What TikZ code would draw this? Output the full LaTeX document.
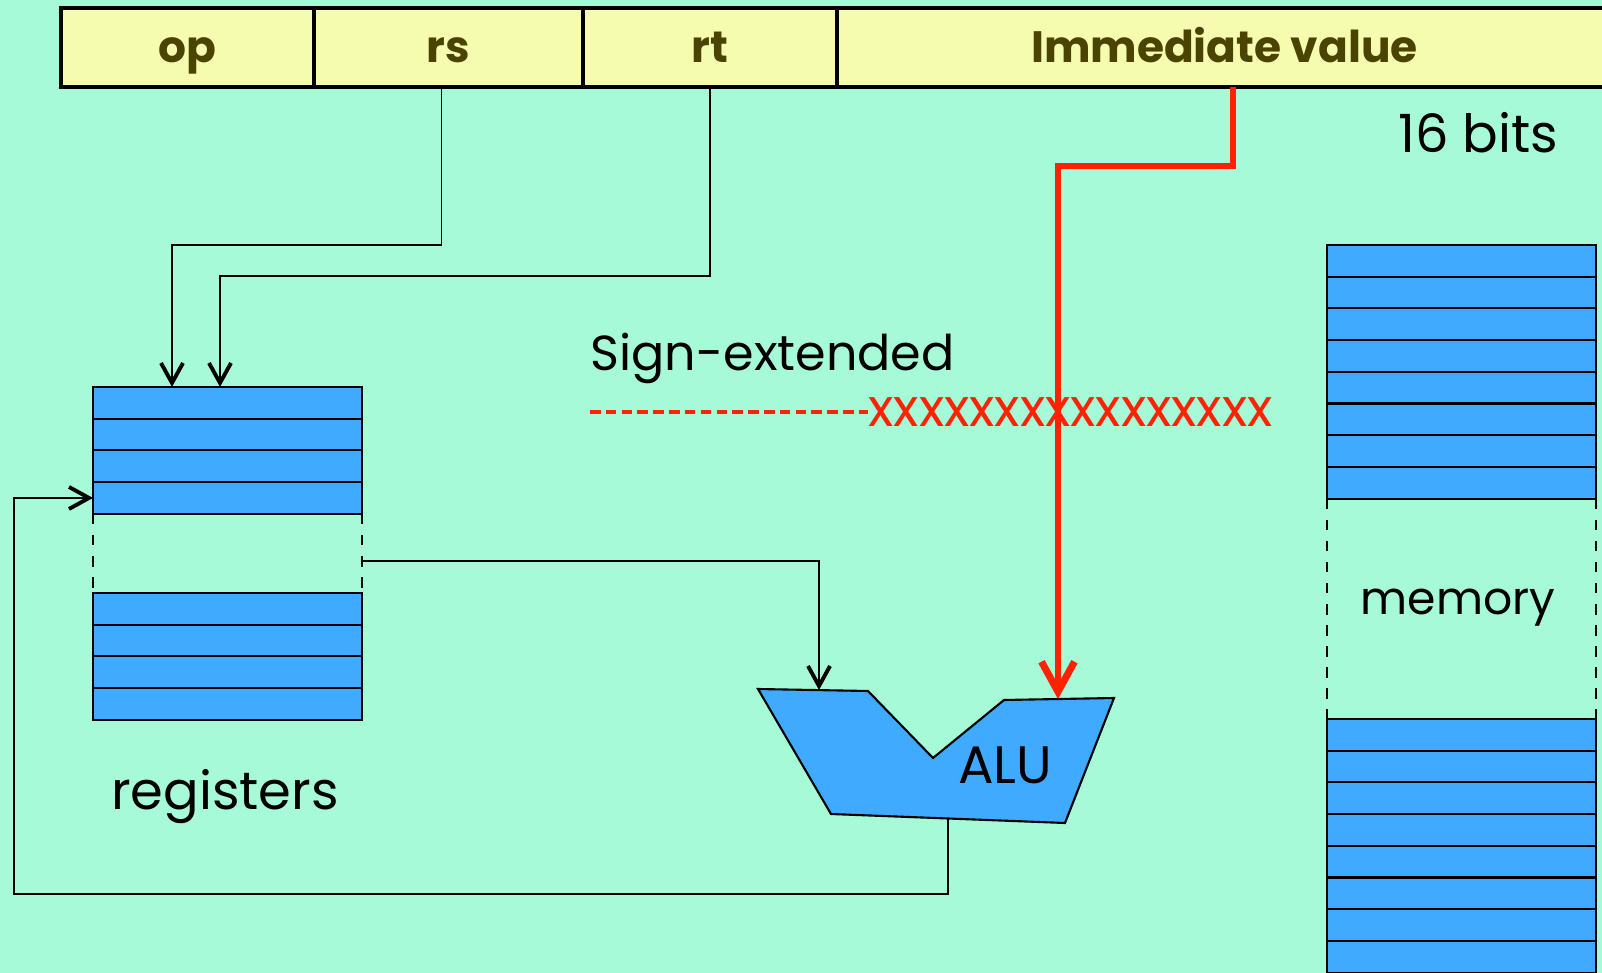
\documentclass[tikz,border=0pt]{standalone}
\usepackage{fontspec}
\setmainfont{Poppins}
\usepackage{xcolor}
\usetikzlibrary{arrows.meta,calc,positioning}
\definecolor{slidebg}{RGB}{166,250,216}
\definecolor{cellblue}{RGB}{63,170,255}
\definecolor{fieldyellow}{RGB}{245,252,176}
\definecolor{fieldtext}{RGB}{74,68,0}
\definecolor{immred}{RGB}{255,34,0}

\begin{document}
\begin{tikzpicture}[
  field/.style={draw,line width=0.9pt,fill=fieldyellow,minimum height=7.9mm,inner sep=0pt,outer sep=0pt,
    text height=3.5mm,text depth=0.4mm,font=\bfseries\fontsize{12.5}{15}\selectfont,text=fieldtext},
  cell/.style={draw,line width=0.6pt,fill=cellblue,minimum width=26.9mm,minimum height=3.17mm,inner sep=0pt,outer sep=0pt},
  gapline/.style={line width=0.6pt,dashed},
  plain/.style={font=\fontsize{15}{18}\selectfont,inner sep=0pt},
  wire/.style={line width=0.5pt,-{Straight Barb[length=2mm,width=2.2mm,line width=1.1pt]}},
  redwire/.style={immred,line width=1.7pt,-{Straight Barb[length=3mm,width=3.3mm,line width=2pt]}}
]
% ---------- background ----------
\fill[slidebg] (0,0) rectangle (16.02,-9.73);
\useasboundingbox (0,0) rectangle (16.02,-9.73);

% ---------- instruction format ----------
\node[field,minimum width=25.3mm,anchor=north west] (op) at (0.61,-0.08) {op};
\node[field,minimum width=26.9mm,right=0pt of op] (rs) {rs};
\node[field,minimum width=25.4mm,right=0pt of rs] (rt) {rt};
\node[field,minimum width=77.5mm,right=0pt of rt] (imm) {Immediate value};
\node[plain] (bits) at (14.78,-1.33) {16 bits};

% ---------- register file ----------
\foreach \k in {1,...,4}
  \node[cell,anchor=north west] (reg\k) at (0.93,{-3.87-0.317*(\k-1)}) {};
\foreach \k in {5,...,8}
  \node[cell,anchor=north west] (reg\k) at (0.93,{-5.93-0.317*(\k-5)}) {};
\draw[gapline] (reg4.south west) -- (reg5.north west);
\draw[gapline] (reg4.south east) -- (reg5.north east);
\node[plain] (regname) at (2.25,-7.97) {registers};

% ---------- memory ----------
\foreach \k in {1,...,8}
  \node[cell,anchor=north west] (mem\k) at (13.27,{-2.45-0.317*(\k-1)}) {};
\foreach \k in {9,...,16}
  \node[cell,anchor=north west] (mem\k) at (13.27,{-7.19-0.317*(\k-9)}) {};
\draw[gapline] (mem8.south west) -- (mem9.north west);
\draw[gapline] (mem8.south east) -- (mem9.north east);
\node[plain,font=\fontsize{13}{16}\selectfont] (memname) at (14.58,-6.08) {memory};

% ---------- ALU ----------
\coordinate (a1) at (7.58,-6.89);
\coordinate (a2) at (8.68,-6.91);
\coordinate (a3) at (9.33,-7.58);
\coordinate (a4) at (10.04,-7.00);
\coordinate (a5) at (11.14,-6.98);
\coordinate (a6) at (10.65,-8.23);
\coordinate (a7) at (8.31,-8.14);
\filldraw[fill=cellblue,line width=0.6pt] (a1) -- (a2) -- (a3) -- (a4) -- (a5) -- (a6) -- (a7) -- cycle;
\node[plain] (alu) at (10.05,-7.65) {ALU};
\coordinate (aluA) at (8.19,-6.90);
\coordinate (aluB) at (10.58,-6.99);
\coordinate (aluout) at (9.48,-8.19);

% ---------- sign extension ----------
\node[plain,font=\fontsize{14}{17}\selectfont,anchor=west] (sext) at (5.90,-3.58) {Sign-extended};
\coordinate (dashstart) at (5.90,-4.12);
\node[plain,text=immred,anchor=west] (xbits) at (8.68,-4.12) {xxxxxxxxxxxxxxxx};
\draw[immred,line width=0.9pt,dash pattern=on 3pt off 1.5pt] (dashstart) -- (xbits.west);

% ---------- wires ----------
\draw[wire] ([xshift=-0.07cm]rs.south) -- ++(0,-1.58) -| ([xshift=7.9mm]reg1.north west);
\draw[wire] (rt.south) -- ++(0,-1.89) -| ([xshift=12.7mm]reg1.north west);
\coordinate (regout) at ($(reg4.south east)!0.6!(reg5.north east)$);
\draw[wire] (regout) -| (aluA);
\coordinate (loop) at (0.14,-8.94);
\draw[wire] (aluout) |- (loop) |- (reg4.west);
\draw[redwire] ([xshift=0.08cm]imm.south) -- ++(0,-0.79) -| (aluB);
\end{tikzpicture}
\end{document}
